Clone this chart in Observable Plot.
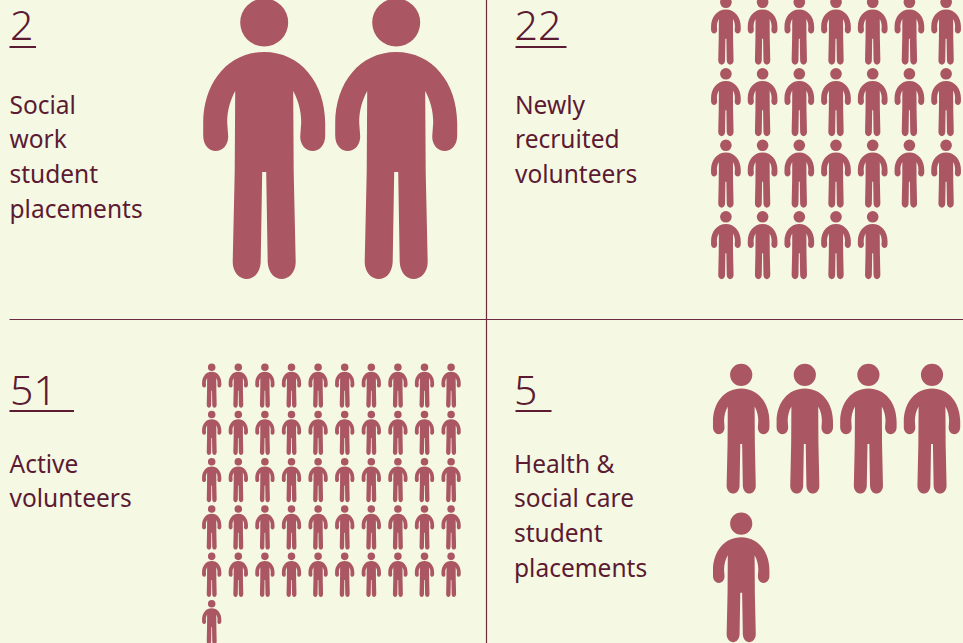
<!DOCTYPE html>
<html>
<head>
<meta charset="utf-8">
<style>
  html, body { margin: 0; padding: 0; background: #f5f9e3; }
  #chart svg { display: block; }
  g[aria-label="headline"] text { letter-spacing: 3px; }
</style>
<script src="https://cdn.jsdelivr.net/npm/d3@7"></script>
<script src="https://cdn.jsdelivr.net/npm/@observablehq/plot@0.6"></script>
</head>
<body>
<div id="chart"></div>
<script>
// Data
const headlineNumbers = ["2", "22", "51", "5"];
const panelLabels = [
  "Social\nwork\nstudent\nplacements",
  "Newly\nrecruited\nvolunteers",
  "Active\nvolunteers",
  "Health &\nsocial care\nstudent\nplacements"
];
const figureCounts = [2, 26, 51, 5];   // figures as drawn in each panel
const figureColumns = [2, 7, 10, 4];

// Layout
const W = 963, H = 643;
const textLeft = [9, 514.5, 9, 513.5];
const numberLeft = [9.5, 514, 9.5, 513.5];
const ruleLeft = [9.5, 515.5, 9.5, 515.5];
const numberBaseline = [39.5, 39.5, 404.5, 404.5];
const underlineY = [46.5, 46.5, 410.5, 410.5];
const underlineWidth = [26.5, 51, 64.5, 36];
const labelTop = [88.5, 88.5, 447.5, 447.5];
const gridX0 = [263.7, 725.4, 211.2, 740.7];
const gridY0 = [138, 30, 385, 428];
const stepX = [132, 36.7, 26.6, 63.6];
const stepY = [0, 71.5, 47.3, 148.7];
const figureR = [140.5, 34.2, 22.2, 65];

const ink = "#5c1a33", figureFill = "#ab5763", lineColor = "#6d2a40";
const fontFamily = "'Noto Sans', Lato, sans-serif";

// Pictogram outline, in units where half the figure height is 140.5
const person = {
  draw(ctx, size) {
    const k = Math.sqrt(size / Math.PI) / 140.5;
    const X = (v, s) => s * v * k, Y = v => v * k;
    ctx.moveTo(24 * k, -116 * k);
    ctx.arc(0, -116 * k, 24 * k, 0, 2 * Math.PI);
    ctx.closePath();
    ctx.moveTo(0, Y(-86.5));
    const side = s => {
      ctx.bezierCurveTo(X(36, s), Y(-86.5), X(61, s), Y(-56), X(61, s), Y(-15));
      ctx.lineTo(X(61, s), Y(-3));
      ctx.bezierCurveTo(X(61, s), Y(7), X(55, s), Y(12.5), X(48.5, s), Y(12.5));
      ctx.bezierCurveTo(X(42, s), Y(12.5), X(36, s), Y(7), X(36, s), Y(-2));
      ctx.lineTo(X(37, s), Y(-16));
      ctx.bezierCurveTo(X(37, s), Y(-28), X(34, s), Y(-38), X(29, s), Y(-47.5));
      ctx.lineTo(X(29.5, s), Y(33.5));
      ctx.lineTo(X(31.5, s), Y(123.5));
      ctx.bezierCurveTo(X(31.5, s), Y(134), X(24.5, s), Y(140.5), X(17.5, s), Y(140.5));
      ctx.bezierCurveTo(X(10, s), Y(140.5), X(4, s), Y(134), X(3.5, s), Y(123.5));
      ctx.lineTo(X(2, s), Y(33.5));
      ctx.lineTo(0, Y(33.5));
    };
    side(1);
    ctx.closePath();
    ctx.moveTo(0, Y(-86.5));
    side(-1);
    ctx.closePath();
  }
};

const panelIndex = d3.range(headlineNumbers.length);

const figureMarks = panelIndex.map(p => {
  const units = d3.range(figureCounts[p]).map(i => ({
    col: i % figureColumns[p],
    row: Math.floor(i / figureColumns[p])
  }));
  return Plot.dot(units, {
    x: d => gridX0[p] + d.col * stepX[p],
    y: d => gridY0[p] + d.row * stepY[p],
    r: figureR[p],
    symbol: person,
    fill: figureFill,
    stroke: "none"
  });
});

const chart = Plot.plot({
  width: W, height: H,
  margin: 0,
  style: { background: "#f5f9e3", fontFamily },
  x: { domain: [0, W], range: [0, W], axis: null },
  y: { domain: [0, H], range: [0, H], axis: null },
  marks: [
    Plot.ruleX([486], { y1: 0, y2: H, stroke: lineColor, strokeWidth: 1.2 }),
    Plot.ruleY([319], { x1: 9.5, x2: W, stroke: lineColor, strokeWidth: 1.2 }),
    ...figureMarks,
    Plot.text(panelIndex, {
      x: p => numberLeft[p], y: p => numberBaseline[p],
      text: p => headlineNumbers[p],
      textAnchor: "start", lineAnchor: "bottom",
      fontSize: 41, fontWeight: 300, fill: ink,
      ariaLabel: "headline"
    }),
    Plot.ruleY(panelIndex, {
      y: p => underlineY[p],
      x1: p => ruleLeft[p],
      x2: p => ruleLeft[p] + underlineWidth[p],
      stroke: ink, strokeWidth: 2
    }),
    Plot.text(panelIndex, {
      x: p => textLeft[p], y: p => labelTop[p],
      text: p => panelLabels[p],
      textAnchor: "start", lineAnchor: "top",
      lineHeight: 1.416,
      fontSize: 24.5, fill: ink
    })
  ]
});
document.getElementById("chart").appendChild(chart);
</script>
</body>
</html>
